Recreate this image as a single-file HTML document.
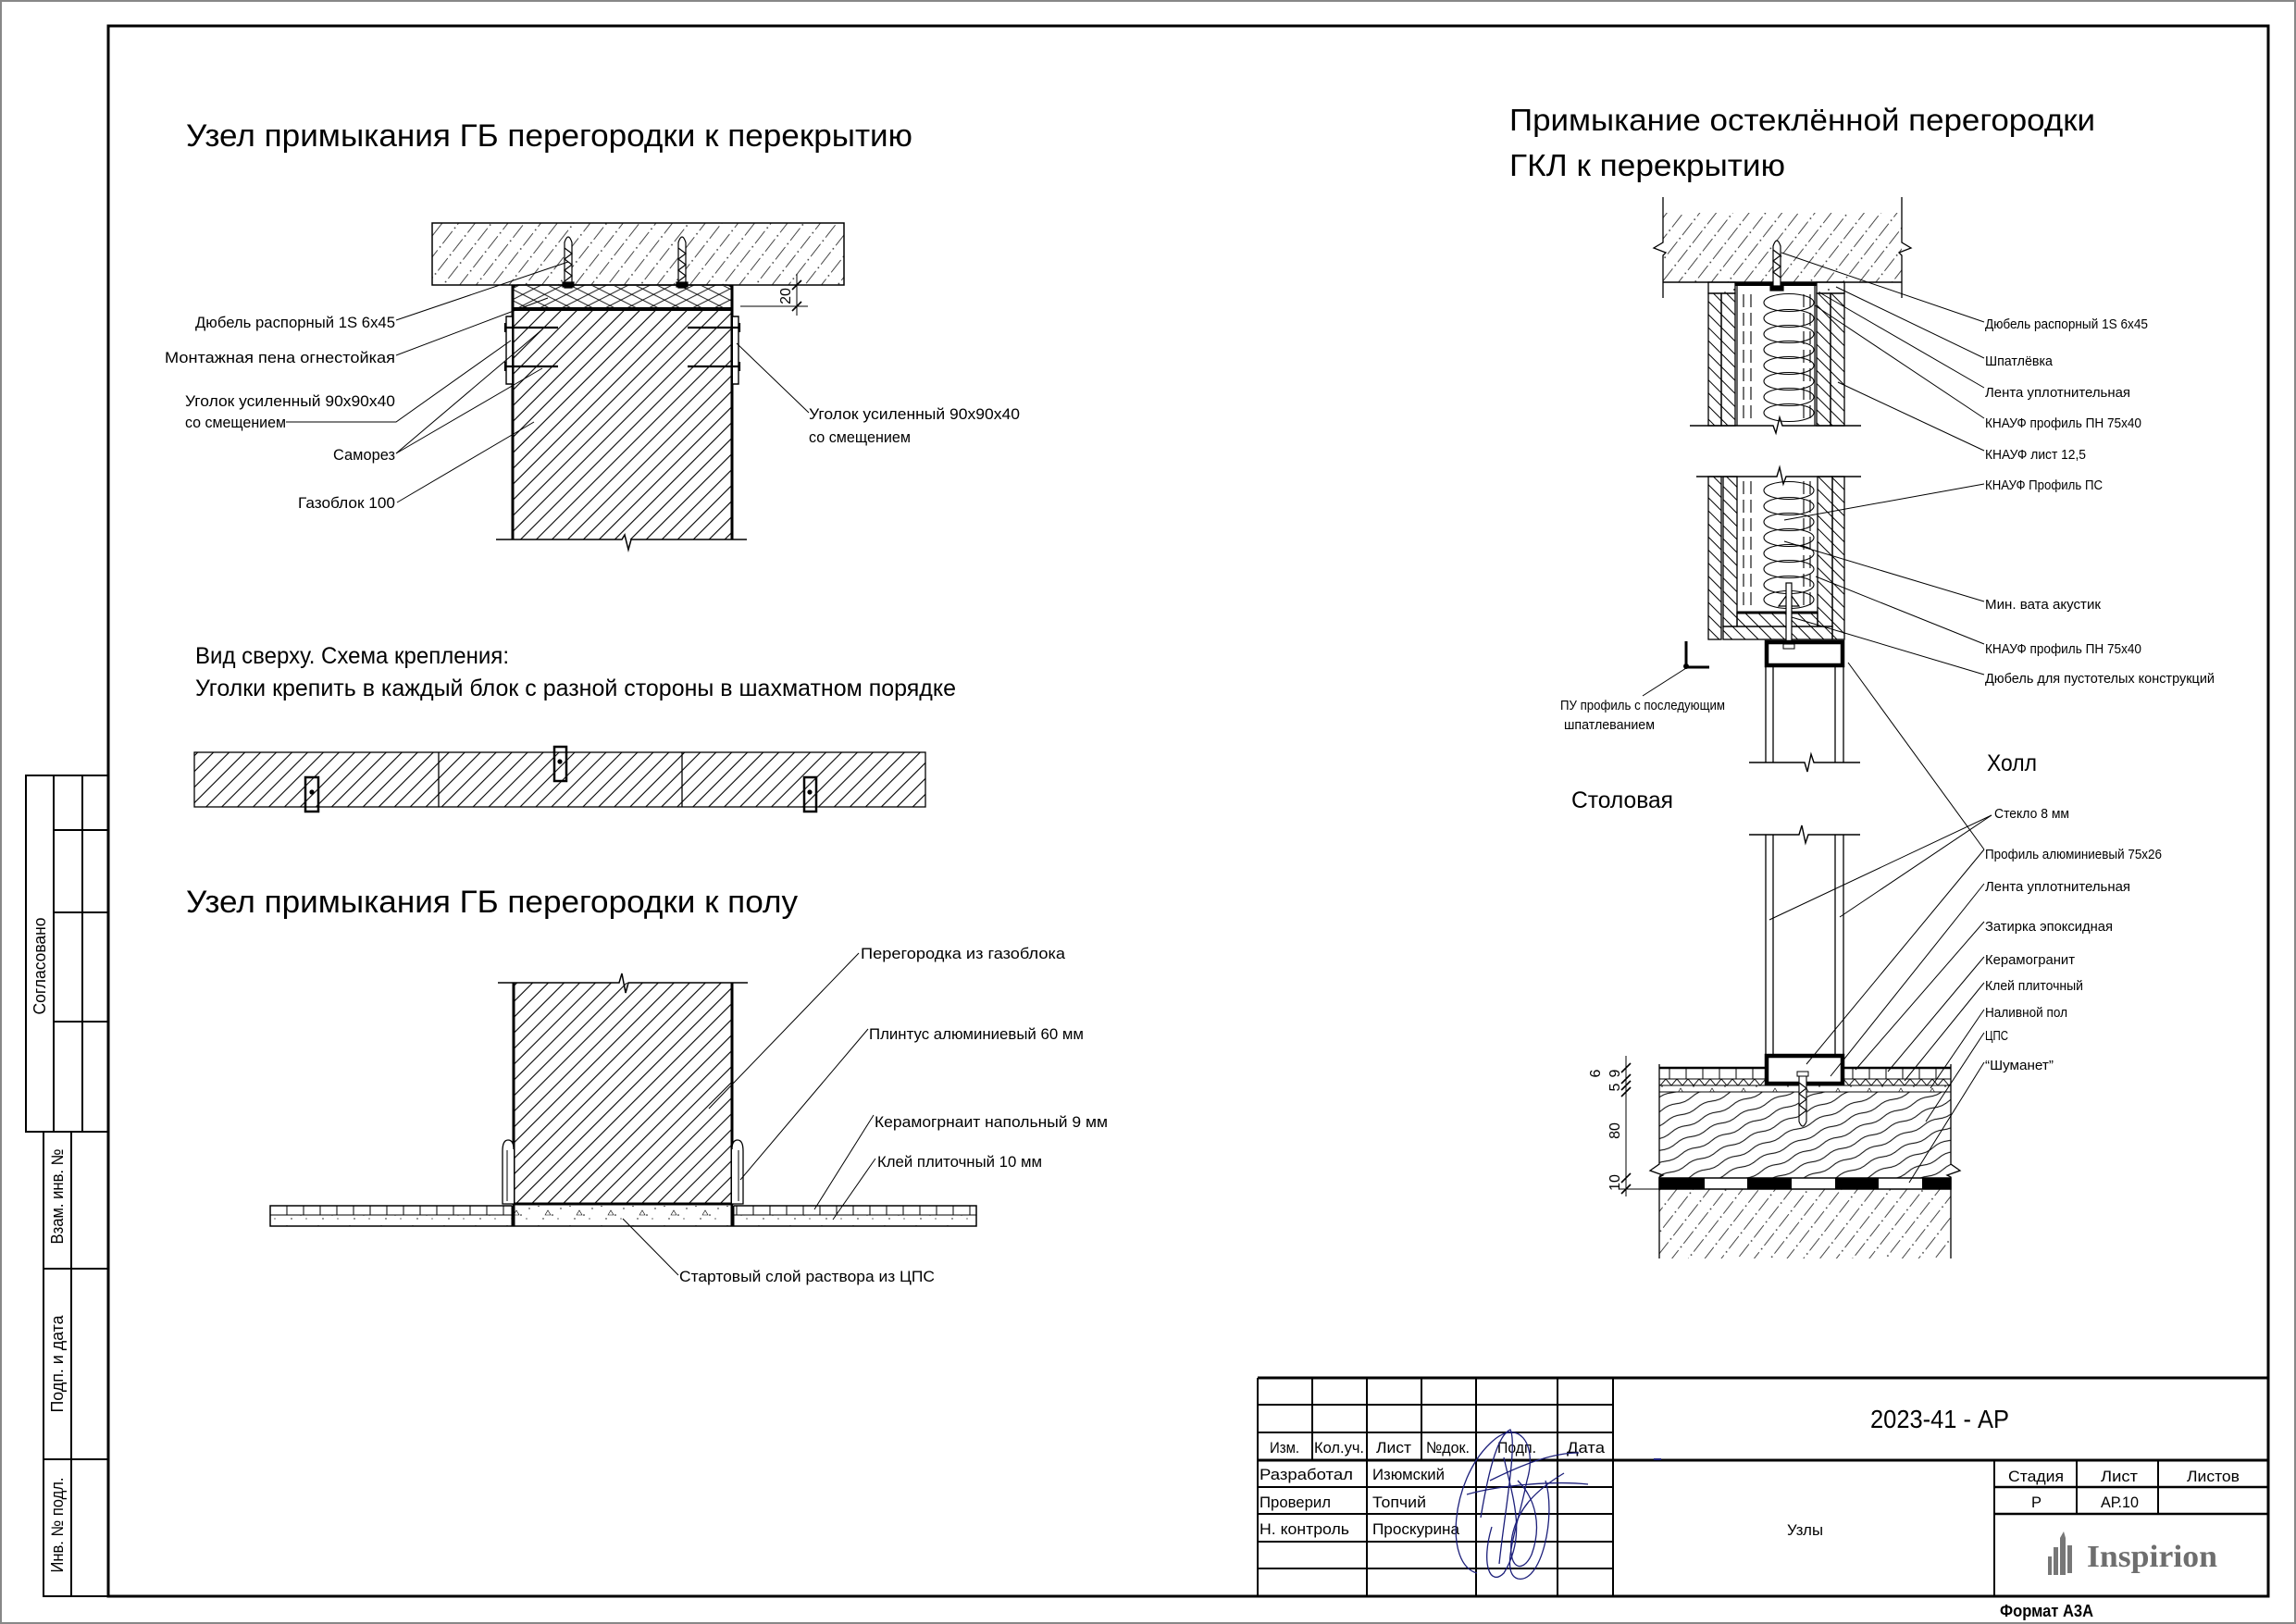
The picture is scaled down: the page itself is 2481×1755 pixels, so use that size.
<!DOCTYPE html>
<html><head><meta charset="utf-8">
<style>
html,body{margin:0;padding:0;background:#fff}
svg{display:block}
text{font-family:"Liberation Sans","DejaVu Sans",sans-serif;fill:#000}
</style></head>
<body>
<svg xmlns="http://www.w3.org/2000/svg" width="2481" height="1755" viewBox="0 0 2481 1755">
<defs>
<pattern id="pB" width="12" height="12" patternUnits="userSpaceOnUse" patternTransform="rotate(45)"><line x1="6" y1="-1" x2="6" y2="13" stroke="#000" stroke-width="1.1"/></pattern>
<pattern id="pC" width="14" height="26" patternUnits="userSpaceOnUse" patternTransform="rotate(38)"><line x1="7" y1="0" x2="7" y2="17" stroke="#333" stroke-width="0.9"/><circle cx="7" cy="21.5" r="0.9" fill="#333"/></pattern>
<pattern id="pG" width="10" height="10" patternUnits="userSpaceOnUse" patternTransform="rotate(-45)"><line x1="5" y1="-1" x2="5" y2="11" stroke="#000" stroke-width="1"/></pattern>
<pattern id="pF1" width="10.7" height="10" patternUnits="userSpaceOnUse" patternTransform="rotate(63)"><line x1="5" y1="-1" x2="5" y2="11" stroke="#000" stroke-width="0.9"/></pattern>
<pattern id="pF2" width="10.7" height="10" patternUnits="userSpaceOnUse" patternTransform="rotate(-63)"><line x1="5" y1="-1" x2="5" y2="11" stroke="#000" stroke-width="0.9"/></pattern>
<pattern id="pS" width="36" height="13" patternUnits="userSpaceOnUse" patternTransform="rotate(-24)"><path d="M0,6.5 C6,4.5 12,4.5 18,6.5 S30,8.5 36,6.5" fill="none" stroke="#000" stroke-width="1"/></pattern>
<pattern id="pM" width="34" height="22" patternUnits="userSpaceOnUse"><circle cx="4" cy="5" r="0.9"/><circle cx="19" cy="15" r="0.8"/><circle cx="28" cy="8" r="0.7"/><path d="M11,15 l3,-5 l3,5z" fill="none" stroke="#000" stroke-width="0.6"/><circle cx="9" cy="19" r="0.7"/><circle cx="25" cy="19" r="0.6"/></pattern>
<pattern id="pT" width="18" height="20" patternUnits="userSpaceOnUse"><line x1="4" y1="0" x2="4" y2="20" stroke="#000" stroke-width="1"/></pattern>
<pattern id="pZ" x="0" y="1166" width="12" height="7" patternUnits="userSpaceOnUse"><polyline points="0,0 6,7 12,0" fill="none" stroke="#000" stroke-width="0.9"/></pattern>
</defs>

<!-- frames -->
<rect x="1" y="1" width="2479" height="1753" fill="none" stroke="#888" stroke-width="2"/>
<rect x="117" y="28" width="2334" height="1697" fill="none" stroke="#000" stroke-width="3"/>

<!-- left strip -->
<g stroke="#000" stroke-width="2" fill="none">
<rect x="28" y="838" width="89" height="385"/>
<line x1="58" y1="838" x2="58" y2="1223"/>
<line x1="89" y1="838" x2="89" y2="1223"/>
<line x1="58" y1="897" x2="117" y2="897"/>
<line x1="58" y1="986" x2="117" y2="986"/>
<line x1="58" y1="1104" x2="117" y2="1104"/>
<rect x="47" y="1223" width="70" height="502"/>
<line x1="77" y1="1223" x2="77" y2="1725"/>
<line x1="47" y1="1371" x2="117" y2="1371"/>
<line x1="47" y1="1577" x2="117" y2="1577"/>
</g>
<g font-size="18" text-anchor="middle">
<text transform="translate(49,1044) rotate(-90)" textLength="105" lengthAdjust="spacingAndGlyphs">Согласовано</text>
<text transform="translate(68,1293) rotate(-90)" textLength="103" lengthAdjust="spacingAndGlyphs">Взам. инв. №</text>
<text transform="translate(68,1474) rotate(-90)" textLength="105" lengthAdjust="spacingAndGlyphs">Подп. и дата</text>
<text transform="translate(68,1648) rotate(-90)" textLength="103" lengthAdjust="spacingAndGlyphs">Инв. № подл.</text>
</g>

<!-- ===== Upper-left detail ===== -->
<text x="201" y="158" font-size="34" textLength="785" lengthAdjust="spacingAndGlyphs">Узел примыкания ГБ перегородки к перекрытию</text>
<rect x="467" y="241" width="445" height="67" fill="url(#pC)" stroke="#000" stroke-width="1.5"/>
<path d="M554,333 V314 Q554,308 560,308 H785 Q791,308 791,314 V333 Z" fill="url(#pF1)" stroke="#000" stroke-width="1.5"/>
<rect x="555" y="309" width="235" height="24" fill="url(#pF2)"/>
<rect x="554" y="334" width="237" height="249" fill="url(#pB)"/>
<line x1="554" y1="334" x2="791" y2="334" stroke="#000" stroke-width="4"/>
<line x1="554" y1="308" x2="554" y2="583" stroke="#000" stroke-width="3"/>
<line x1="791" y1="308" x2="791" y2="583" stroke="#000" stroke-width="3"/>
<path d="M536,583 H672 L675,578 L679,594 L682,583 H807" fill="none" stroke="#000" stroke-width="1.5"/>
<!-- angles -->
<path d="M553,342 H547 V415 H553" fill="#fff" stroke="#000" stroke-width="1.4"/>
<path d="M792,342 H798 V415 H792" fill="#fff" stroke="#000" stroke-width="1.4"/>
<g stroke="#000" stroke-width="2.2">
<line x1="545" y1="354" x2="603" y2="354"/><line x1="545" y1="396" x2="603" y2="396"/>
<line x1="743" y1="354" x2="800" y2="354"/><line x1="743" y1="396" x2="800" y2="396"/>
<line x1="546" y1="349" x2="546" y2="359"/><line x1="546" y1="391" x2="546" y2="401"/>
<line x1="799" y1="349" x2="799" y2="359"/><line x1="799" y1="391" x2="799" y2="401"/>
</g>
<!-- dowels -->
<g stroke="#000" stroke-width="1.2" fill="#fff">
<path d="M610,311 V262 Q614,250 618,262 V311 Z"/>
<path d="M610,268 L618,274 L610,280 L618,286 L610,292 L618,298 L610,304" fill="none"/>
<rect x="608" y="305" width="12" height="5" fill="#000"/>
<path d="M733,311 V262 Q737,250 741,262 V311 Z"/>
<path d="M733,268 L741,274 L733,280 L741,286 L733,292 L741,298 L733,304" fill="none"/>
<rect x="731" y="305" width="12" height="5" fill="#000"/>
</g>
<!-- dim 20 -->
<g stroke="#000" stroke-width="1">
<line x1="800" y1="331" x2="873" y2="331"/>
<line x1="861" y1="296" x2="861" y2="341"/>
<line x1="856" y1="313" x2="866" y2="303" stroke-width="1.6"/>
<line x1="856" y1="336" x2="866" y2="326" stroke-width="1.6"/>
</g>
<text transform="translate(854,320) rotate(-90)" font-size="16" text-anchor="middle">20</text>
<!-- leaders left -->
<g stroke="#000" stroke-width="1" fill="none">
<line x1="428" y1="346" x2="614" y2="283"/>
<line x1="428" y1="384" x2="592" y2="322"/>
<polyline points="309,456 428,456 552,368"/>
<line x1="428" y1="490" x2="586" y2="356"/>
<line x1="428" y1="490" x2="586" y2="398"/>
<line x1="429" y1="543" x2="577" y2="456"/>
<line x1="874" y1="446" x2="796" y2="371"/>
</g>
<g font-size="17">
<text x="211" y="354" textLength="216" lengthAdjust="spacingAndGlyphs">Дюбель распорный 1S 6х45</text>
<text x="178" y="392" textLength="249" lengthAdjust="spacingAndGlyphs">Монтажная пена огнестойкая</text>
<text x="200" y="439" textLength="227" lengthAdjust="spacingAndGlyphs">Уголок усиленный 90х90х40</text>
<text x="200" y="462" textLength="109" lengthAdjust="spacingAndGlyphs">со смещением</text>
<text x="360" y="497" textLength="67" lengthAdjust="spacingAndGlyphs">Саморез</text>
<text x="322" y="549" textLength="105" lengthAdjust="spacingAndGlyphs">Газоблок 100</text>
<text x="874" y="453" textLength="228" lengthAdjust="spacingAndGlyphs">Уголок усиленный 90х90х40</text>
<text x="874" y="478" textLength="110" lengthAdjust="spacingAndGlyphs">со смещением</text>
</g>

<!-- ===== Plan view ===== -->
<text x="211" y="717" font-size="25" textLength="339" lengthAdjust="spacingAndGlyphs">Вид сверху. Схема крепления:</text>
<text x="211" y="752" font-size="25" textLength="822" lengthAdjust="spacingAndGlyphs">Уголки крепить в каждый блок с разной стороны в шахматном порядке</text>
<rect x="210" y="813" width="790" height="59" fill="url(#pB)" stroke="#000" stroke-width="1.3"/>
<g stroke="#000" stroke-width="1.3"><line x1="474" y1="813" x2="474" y2="872"/><line x1="737" y1="813" x2="737" y2="872"/></g>
<g fill="none" stroke="#000" stroke-width="2.5">
<rect x="330" y="840" width="14" height="37"/><rect x="599" y="807" width="13" height="37"/><rect x="869" y="840" width="13" height="37"/>
</g>
<circle cx="337" cy="856" r="2.6"/><circle cx="605" cy="823" r="2.6"/><circle cx="875" cy="856" r="2.6"/>

<!-- ===== Floor detail ===== -->
<text x="201" y="986" font-size="34" textLength="661" lengthAdjust="spacingAndGlyphs">Узел примыкания ГБ перегородки к полу</text>
<rect x="555" y="1062" width="236" height="239" fill="url(#pB)"/>
<path d="M538,1062 H669 L672,1052 L676,1073 L679,1062 H808" fill="none" stroke="#000" stroke-width="1.5"/>
<line x1="555" y1="1062" x2="555" y2="1325" stroke="#000" stroke-width="3"/>
<line x1="791" y1="1062" x2="791" y2="1325" stroke="#000" stroke-width="3"/>
<line x1="555" y1="1301" x2="791" y2="1301" stroke="#000" stroke-width="3"/>
<rect x="292" y="1303" width="261" height="10" fill="url(#pT)"/>
<rect x="793" y="1303" width="262" height="10" fill="url(#pT)"/>
<rect x="292" y="1313" width="261" height="12" fill="url(#pM)"/>
<rect x="793" y="1313" width="262" height="12" fill="url(#pM)"/>
<rect x="556" y="1303" width="234" height="22" fill="url(#pM)"/>
<g stroke="#000" stroke-width="1.5" fill="none">
<polyline points="553,1303 292,1303 292,1325 1055,1325 1055,1303 793,1303"/>
<line x1="292" y1="1313" x2="553" y2="1313" stroke-width="1"/>
<line x1="793" y1="1313" x2="1055" y2="1313" stroke-width="1"/>
<line x1="553" y1="1303" x2="553" y2="1325" stroke-width="1"/>
<line x1="793" y1="1303" x2="793" y2="1325" stroke-width="1"/>
<path d="M555,1301 H543 V1244 Q543,1232 549,1232 Q555,1232 555,1242" fill="#fff" stroke-width="1.3"/>
<line x1="548" y1="1243" x2="548" y2="1298" stroke-width="1"/>
<path d="M791,1301 H803 V1244 Q803,1232 797,1232 Q791,1232 791,1242" fill="#fff" stroke-width="1.3"/>
<line x1="798" y1="1243" x2="798" y2="1298" stroke-width="1"/>
</g>
<g stroke="#000" stroke-width="1" fill="none">
<line x1="928" y1="1030" x2="766" y2="1198"/>
<line x1="938" y1="1112" x2="800" y2="1275"/>
<line x1="944" y1="1205" x2="880" y2="1307"/>
<line x1="946" y1="1252" x2="900" y2="1318"/>
<line x1="733" y1="1378" x2="673" y2="1317"/>
</g>
<g font-size="17">
<text x="930" y="1036" textLength="221" lengthAdjust="spacingAndGlyphs">Перегородка из газоблока</text>
<text x="939" y="1123" textLength="232" lengthAdjust="spacingAndGlyphs">Плинтус алюминиевый 60 мм</text>
<text x="945" y="1218" textLength="252" lengthAdjust="spacingAndGlyphs">Керамогрнаит напольный 9 мм</text>
<text x="948" y="1261" textLength="178" lengthAdjust="spacingAndGlyphs">Клей плиточный 10 мм</text>
<text x="734" y="1385" textLength="276" lengthAdjust="spacingAndGlyphs">Стартовый слой раствора из ЦПС</text>
</g>

<!-- ===== Right detail ===== -->
<text x="1631" y="141" font-size="33" textLength="633" lengthAdjust="spacingAndGlyphs">Примыкание остеклённой перегородки</text>
<text x="1631" y="190" font-size="33" textLength="298" lengthAdjust="spacingAndGlyphs">ГКЛ к перекрытию</text>
<!-- slab -->
<rect x="1797" y="230" width="258" height="75" fill="url(#pC)"/>
<line x1="1797" y1="305" x2="2055" y2="305" stroke="#000" stroke-width="1.5"/>
<path d="M1797,213 V262 L1787,268 L1800,273 L1797,276 V322" fill="none" stroke="#000" stroke-width="1.3"/>
<path d="M2055,213 V262 L2065,268 L2052,273 L2055,276 V322" fill="none" stroke="#000" stroke-width="1.3"/>
<!-- top wall -->
<g stroke="#000" stroke-width="1.3">
<rect x="1846" y="317" width="14" height="143" fill="url(#pG)"/>
<rect x="1860" y="317" width="15" height="143" fill="url(#pG)"/>
<rect x="1963" y="317" width="15" height="143" fill="url(#pG)"/>
<rect x="1978" y="317" width="15" height="143" fill="url(#pG)"/>
<rect x="1846" y="305" width="29" height="12" fill="url(#pM)"/>
<rect x="1963" y="305" width="30" height="12" fill="url(#pM)"/>
</g>
<rect x="1875" y="305" width="88" height="4" fill="#000"/>
<line x1="1877" y1="309" x2="1877" y2="460" stroke="#000" stroke-width="1.2"/>
<line x1="1961" y1="309" x2="1961" y2="460" stroke="#000" stroke-width="1.2"/>
<g stroke="#000" stroke-width="1.1" stroke-dasharray="14 6">
<line x1="1884" y1="318" x2="1884" y2="458"/><line x1="1892" y1="318" x2="1892" y2="458"/>
<line x1="1949" y1="318" x2="1949" y2="458"/><line x1="1956" y1="318" x2="1956" y2="458"/>
</g>
<g fill="none" stroke="#000" stroke-width="1.1">
<ellipse cx="1933" cy="327" rx="27" ry="9.5"/><ellipse cx="1933" cy="344" rx="27" ry="9.5"/><ellipse cx="1933" cy="361" rx="27" ry="9.5"/><ellipse cx="1933" cy="378" rx="27" ry="9.5"/><ellipse cx="1933" cy="395" rx="27" ry="9.5"/><ellipse cx="1933" cy="412" rx="27" ry="9.5"/><ellipse cx="1933" cy="429" rx="27" ry="9.5"/><ellipse cx="1933" cy="446" rx="27" ry="9.5"/>
</g>
<g stroke="#000" stroke-width="1.2" fill="#fff">
<path d="M1916,312 V266 Q1920,254 1924,266 V312 Z"/>
<path d="M1916,270 L1924,276 L1916,282 L1924,288 L1916,294 L1924,300" fill="none"/>
<rect x="1913" y="309" width="14" height="5" fill="#000"/>
</g>
<rect x="1826" y="461" width="186" height="53" fill="#fff"/>
<path d="M1826,460 H1916 L1919,468 L1923,451 L1926,460 H2011" fill="none" stroke="#000" stroke-width="1.4"/>
<!-- lower wall -->
<g stroke="#000" stroke-width="1.3">
<rect x="1846" y="515" width="14" height="176" fill="url(#pG)"/>
<rect x="1980" y="515" width="13" height="176" fill="url(#pG)"/>
<rect x="1862" y="515" width="15" height="162" fill="url(#pG)"/>
<rect x="1964" y="515" width="16" height="162" fill="url(#pG)"/>
<rect x="1862" y="677" width="118" height="14" fill="url(#pG)"/>
<rect x="1877" y="662" width="87" height="15" fill="url(#pG)"/>
</g>
<line x1="1877" y1="662" x2="1964" y2="662" stroke="#000" stroke-width="3"/>
<g stroke="#000" stroke-width="1.1" stroke-dasharray="14 6">
<line x1="1884" y1="520" x2="1884" y2="658"/><line x1="1892" y1="520" x2="1892" y2="658"/>
<line x1="1949" y1="520" x2="1949" y2="658"/><line x1="1956" y1="520" x2="1956" y2="658"/>
</g>
<g fill="none" stroke="#000" stroke-width="1.1">
<ellipse cx="1933" cy="530" rx="27" ry="9.5"/><ellipse cx="1933" cy="547" rx="27" ry="9.5"/><ellipse cx="1933" cy="564" rx="27" ry="9.5"/><ellipse cx="1933" cy="581" rx="27" ry="9.5"/><ellipse cx="1933" cy="598" rx="27" ry="9.5"/><ellipse cx="1933" cy="615" rx="27" ry="9.5"/><ellipse cx="1933" cy="632" rx="27" ry="9.5"/><ellipse cx="1933" cy="648" rx="27" ry="9.5"/>
</g>
<rect x="1826" y="490" width="186" height="24" fill="#fff"/>
<path d="M1833,515 H1920 L1923,505 L1927,523 L1930,515 H2011" fill="none" stroke="#000" stroke-width="1.4"/>
<path d="M1922,655 L1933,640 L1944,655 Z" fill="#fff" stroke="#000" stroke-width="1.2"/>
<rect x="1930" y="630" width="6" height="66" fill="#fff" stroke="#000" stroke-width="1.2"/>
<!-- ПУ box -->
<rect x="1909" y="694" width="82" height="25" fill="#fff" stroke="#000" stroke-width="4.5"/>
<rect x="1927" y="696" width="12" height="5" fill="#fff" stroke="#000" stroke-width="1"/>
<path d="M1822,693 V721 H1847" fill="none" stroke="#000" stroke-width="3"/>
<circle cx="1822" cy="720" r="3"/>
<!-- glass -->
<g stroke="#000" stroke-width="1.3">
<line x1="1908" y1="721" x2="1908" y2="824"/><line x1="1916" y1="721" x2="1916" y2="824"/>
<line x1="1983" y1="721" x2="1983" y2="824"/><line x1="1992" y1="721" x2="1992" y2="824"/>
<line x1="1908" y1="902" x2="1908" y2="1139"/><line x1="1916" y1="902" x2="1916" y2="1139"/>
<line x1="1983" y1="902" x2="1983" y2="1139"/><line x1="1992" y1="902" x2="1992" y2="1139"/>
</g>
<path d="M1890,824 H1950 L1953,834 L1957,815 L1960,824 H2010" fill="none" stroke="#000" stroke-width="1.4"/>
<path d="M1890,902 H1944 L1947,892 L1951,911 L1954,902 H2010" fill="none" stroke="#000" stroke-width="1.4"/>
<!-- floor -->
<rect x="1793" y="1154" width="315" height="12" fill="url(#pT)"/>
<rect x="1793" y="1166" width="315" height="7" fill="url(#pZ)"/>
<rect x="1793" y="1173" width="315" height="7" fill="url(#pM)"/>
<rect x="1793" y="1180" width="315" height="93" fill="url(#pS)"/>
<rect x="1793" y="1285" width="315" height="75" fill="url(#pC)"/>
<rect x="1793" y="1273" width="315" height="12" fill="#fff" stroke="#000" stroke-width="1.5"/>
<g fill="#000">
<rect x="1793" y="1273" width="49" height="12"/><rect x="1888" y="1273" width="48" height="12"/><rect x="1983" y="1273" width="47" height="12"/><rect x="2077" y="1273" width="31" height="12"/>
</g>
<g stroke="#000" fill="none">
<line x1="1793" y1="1154" x2="2108" y2="1154" stroke-width="2.5"/>
<line x1="1793" y1="1166" x2="2108" y2="1166" stroke-width="1"/>
<line x1="1793" y1="1173" x2="2108" y2="1173" stroke-width="1"/>
<line x1="1793" y1="1180" x2="2108" y2="1180" stroke-width="1"/>
<path d="M1793,1150 V1258 L1783,1265 L1797,1270 L1793,1272 V1360" stroke-width="1.3"/>
<path d="M2108,1150 V1258 L2118,1265 L2104,1270 L2108,1272 V1360" stroke-width="1.3"/>
</g>
<rect x="1909" y="1141" width="82" height="30" fill="#fff" stroke="#000" stroke-width="4.5"/>
<rect x="1942" y="1158" width="12" height="5" fill="#fff" stroke="#000" stroke-width="1"/>
<g stroke="#000" stroke-width="1.1" fill="#fff">
<path d="M1944,1163 V1212 Q1948,1222 1952,1212 V1163 Z"/>
<path d="M1944,1170 L1952,1176 L1944,1182 L1952,1188 L1944,1194 L1952,1200 L1944,1206" fill="none"/>
</g>
<!-- dim chain -->
<g stroke="#000" stroke-width="1">
<line x1="1757" y1="1141" x2="1757" y2="1293"/>
<line x1="1750" y1="1285" x2="1793" y2="1285"/>
<line x1="1752" y1="1159" x2="1762" y2="1149" stroke-width="1.6"/>
<line x1="1752" y1="1171" x2="1762" y2="1161" stroke-width="1.6"/>
<line x1="1752" y1="1178" x2="1762" y2="1168" stroke-width="1.6"/>
<line x1="1752" y1="1185" x2="1762" y2="1175" stroke-width="1.6"/>
<line x1="1752" y1="1278" x2="1762" y2="1268" stroke-width="1.6"/>
<line x1="1752" y1="1290" x2="1762" y2="1280" stroke-width="1.6"/>
</g>
<g font-size="16" text-anchor="middle">
<text transform="translate(1729,1160) rotate(-90)">6</text>
<text transform="translate(1750,1175) rotate(-90)">5</text>
<text transform="translate(1750,1160) rotate(-90)">9</text>
<text transform="translate(1750,1222) rotate(-90)">80</text>
<text transform="translate(1750,1278) rotate(-90)">10</text>
</g>
<!-- right leaders -->
<g stroke="#000" stroke-width="1" fill="none">
<line x1="2144" y1="348" x2="1925" y2="273"/>
<line x1="2144" y1="387" x2="1984" y2="310"/>
<line x1="2144" y1="419" x2="1966" y2="316"/>
<line x1="2144" y1="452" x2="1961" y2="330"/>
<line x1="2144" y1="487" x2="1986" y2="413"/>
<line x1="2144" y1="523" x2="1928" y2="562"/>
<line x1="2144" y1="650" x2="1928" y2="585"/>
<line x1="2144" y1="696" x2="1962" y2="623"/>
<line x1="2144" y1="729" x2="1936" y2="667"/>
<line x1="1775" y1="752" x2="1822" y2="722"/>
<line x1="2152" y1="881" x2="1912" y2="994"/>
<line x1="2152" y1="881" x2="1988" y2="991"/>
<line x1="2144" y1="918" x2="1997" y2="716"/>
<line x1="2144" y1="918" x2="1952" y2="1150"/>
<line x1="2144" y1="955" x2="1978" y2="1163"/>
<line x1="2144" y1="996" x2="2005" y2="1156"/>
<line x1="2144" y1="1034" x2="2040" y2="1158"/>
<line x1="2144" y1="1062" x2="2058" y2="1168"/>
<line x1="2144" y1="1091" x2="2086" y2="1176"/>
<line x1="2144" y1="1116" x2="2081" y2="1212"/>
<line x1="2144" y1="1148" x2="2063" y2="1278"/>
</g>
<g font-size="15">
<text x="2145" y="355" textLength="176" lengthAdjust="spacingAndGlyphs">Дюбель распорный 1S 6х45</text>
<text x="2145" y="395" textLength="73" lengthAdjust="spacingAndGlyphs">Шпатлёвка</text>
<text x="2145" y="429" textLength="157" lengthAdjust="spacingAndGlyphs">Лента уплотнительная</text>
<text x="2145" y="462" textLength="169" lengthAdjust="spacingAndGlyphs">КНАУФ профиль ПН 75х40</text>
<text x="2145" y="496" textLength="109" lengthAdjust="spacingAndGlyphs">КНАУФ лист 12,5</text>
<text x="2145" y="529" textLength="127" lengthAdjust="spacingAndGlyphs">КНАУФ Профиль ПС</text>
<text x="2145" y="658" textLength="125" lengthAdjust="spacingAndGlyphs">Мин. вата акустик</text>
<text x="2145" y="706" textLength="169" lengthAdjust="spacingAndGlyphs">КНАУФ профиль ПН 75х40</text>
<text x="2145" y="738" textLength="248" lengthAdjust="spacingAndGlyphs">Дюбель для пустотелых конструкций</text>
<text x="1686" y="767" textLength="178" lengthAdjust="spacingAndGlyphs">ПУ профиль с последующим</text>
<text x="1690" y="788" textLength="98" lengthAdjust="spacingAndGlyphs">шпатлеванием</text>
<text x="2155" y="884" textLength="81" lengthAdjust="spacingAndGlyphs">Стекло 8 мм</text>
<text x="2145" y="928" textLength="191" lengthAdjust="spacingAndGlyphs">Профиль алюминиевый 75х26</text>
<text x="2145" y="963" textLength="157" lengthAdjust="spacingAndGlyphs">Лента уплотнительная</text>
<text x="2145" y="1006" textLength="138" lengthAdjust="spacingAndGlyphs">Затирка эпоксидная</text>
<text x="2145" y="1042" textLength="97" lengthAdjust="spacingAndGlyphs">Керамогранит</text>
<text x="2145" y="1070" textLength="106" lengthAdjust="spacingAndGlyphs">Клей плиточный</text>
<text x="2145" y="1099" textLength="89" lengthAdjust="spacingAndGlyphs">Наливной пол</text>
<text x="2145" y="1124" textLength="25" lengthAdjust="spacingAndGlyphs">ЦПС</text>
<text x="2145" y="1156" textLength="74" lengthAdjust="spacingAndGlyphs">“Шуманет”</text>
</g>
<text x="2147" y="833" font-size="25" textLength="54" lengthAdjust="spacingAndGlyphs">Холл</text>
<text x="1698" y="873" font-size="25" textLength="110" lengthAdjust="spacingAndGlyphs">Столовая</text>

<!-- ===== Title block ===== -->
<g stroke="#000" stroke-width="2" fill="none">
<line x1="1359" y1="1489" x2="2451" y2="1489" stroke-width="3"/>
<line x1="1359" y1="1578" x2="2451" y2="1578" stroke-width="3"/>
<line x1="1359" y1="1489" x2="1359" y2="1725"/>
<line x1="1359" y1="1518" x2="1743" y2="1518"/>
<line x1="1359" y1="1548" x2="1743" y2="1548"/>
<line x1="1359" y1="1607" x2="1743" y2="1607"/>
<line x1="1359" y1="1636" x2="1743" y2="1636"/>
<line x1="1359" y1="1666" x2="1743" y2="1666"/>
<line x1="1359" y1="1695" x2="1743" y2="1695"/>
<line x1="1418" y1="1489" x2="1418" y2="1578"/>
<line x1="1536" y1="1489" x2="1536" y2="1578"/>
<line x1="1477" y1="1489" x2="1477" y2="1725"/>
<line x1="1595" y1="1489" x2="1595" y2="1725"/>
<line x1="1683" y1="1489" x2="1683" y2="1725"/>
<line x1="1743" y1="1489" x2="1743" y2="1725"/>
<line x1="2155" y1="1578" x2="2155" y2="1725"/>
<line x1="2244" y1="1578" x2="2244" y2="1636"/>
<line x1="2332" y1="1578" x2="2332" y2="1636"/>
<line x1="2155" y1="1607" x2="2451" y2="1607" stroke-width="2.5"/>
<line x1="2155" y1="1636" x2="2451" y2="1636" stroke-width="2.5"/>
</g>
<g font-size="17">
<text x="1372" y="1570" textLength="32" lengthAdjust="spacingAndGlyphs">Изм.</text>
<text x="1420" y="1570" textLength="54" lengthAdjust="spacingAndGlyphs">Кол.уч.</text>
<text x="1487" y="1570" textLength="38" lengthAdjust="spacingAndGlyphs">Лист</text>
<text x="1541" y="1570" textLength="47" lengthAdjust="spacingAndGlyphs">№док.</text>
<text x="1618" y="1570" textLength="42" lengthAdjust="spacingAndGlyphs">Подп.</text>
<text x="1693" y="1570" textLength="41" lengthAdjust="spacingAndGlyphs">Дата</text>
<text x="1361" y="1599" textLength="101" lengthAdjust="spacingAndGlyphs">Разработал</text>
<text x="1483" y="1599" textLength="78" lengthAdjust="spacingAndGlyphs">Изюмский</text>
<text x="1361" y="1629" textLength="77" lengthAdjust="spacingAndGlyphs">Проверил</text>
<text x="1483" y="1629" textLength="58" lengthAdjust="spacingAndGlyphs">Топчий</text>
<text x="1361" y="1658" textLength="97" lengthAdjust="spacingAndGlyphs">Н. контроль</text>
<text x="1483" y="1658" textLength="94" lengthAdjust="spacingAndGlyphs">Проскурина</text>
<text x="1931" y="1659" textLength="39" lengthAdjust="spacingAndGlyphs">Узлы</text>
<text x="2170" y="1601" textLength="60" lengthAdjust="spacingAndGlyphs">Стадия</text>
<text x="2270" y="1601" textLength="40" lengthAdjust="spacingAndGlyphs">Лист</text>
<text x="2363" y="1601" textLength="57" lengthAdjust="spacingAndGlyphs">Листов</text>
<text x="2195" y="1629" textLength="11" lengthAdjust="spacingAndGlyphs">Р</text>
<text x="2270" y="1629" textLength="41" lengthAdjust="spacingAndGlyphs">АР.10</text>
</g>
<text x="2021" y="1543" font-size="28" textLength="150" lengthAdjust="spacingAndGlyphs">2023-41 - АР</text>
<text x="2161" y="1747" font-size="18" font-weight="bold" textLength="101" lengthAdjust="spacingAndGlyphs">Формат А3А</text>
<!-- logo -->
<g fill="#777">
<path d="M2226,1662 L2230,1655 L2232,1662 V1702 H2226 Z"/>
<rect x="2219" y="1672" width="5" height="30"/>
<rect x="2234" y="1670" width="5" height="30"/>
<rect x="2213" y="1682" width="4" height="20"/>
</g>
<text x="2255" y="1693" font-size="34" font-weight="bold" style="font-family:'Liberation Serif',serif;fill:#6e6e6e" textLength="141" lengthAdjust="spacingAndGlyphs">Inspirion</text>
<!-- signature -->
<g fill="none" stroke="#1c1f7a" stroke-width="1.3">
<path d="M1596,1700 C1560,1690 1568,1600 1610,1560 C1640,1530 1662,1560 1650,1600 C1640,1650 1620,1700 1640,1706 C1665,1712 1682,1640 1670,1600"/>
<path d="M1600,1640 C1610,1580 1620,1550 1632,1545 C1640,1560 1625,1640 1620,1690"/>
<path d="M1585,1615 C1620,1605 1680,1600 1716,1604"/>
<path d="M1610,1600 C1650,1580 1680,1570 1706,1570"/>
<path d="M1640,1600 C1660,1620 1666,1650 1655,1680 C1645,1702 1628,1695 1634,1660 C1640,1630 1660,1610 1690,1592"/>
<path d="M1625,1575 C1635,1620 1650,1660 1625,1700 C1610,1715 1600,1690 1612,1650"/>
</g>
<line x1="1787" y1="1577" x2="1795" y2="1577" stroke="#1c1f7a" stroke-width="2"/>
</svg>
</body></html>
